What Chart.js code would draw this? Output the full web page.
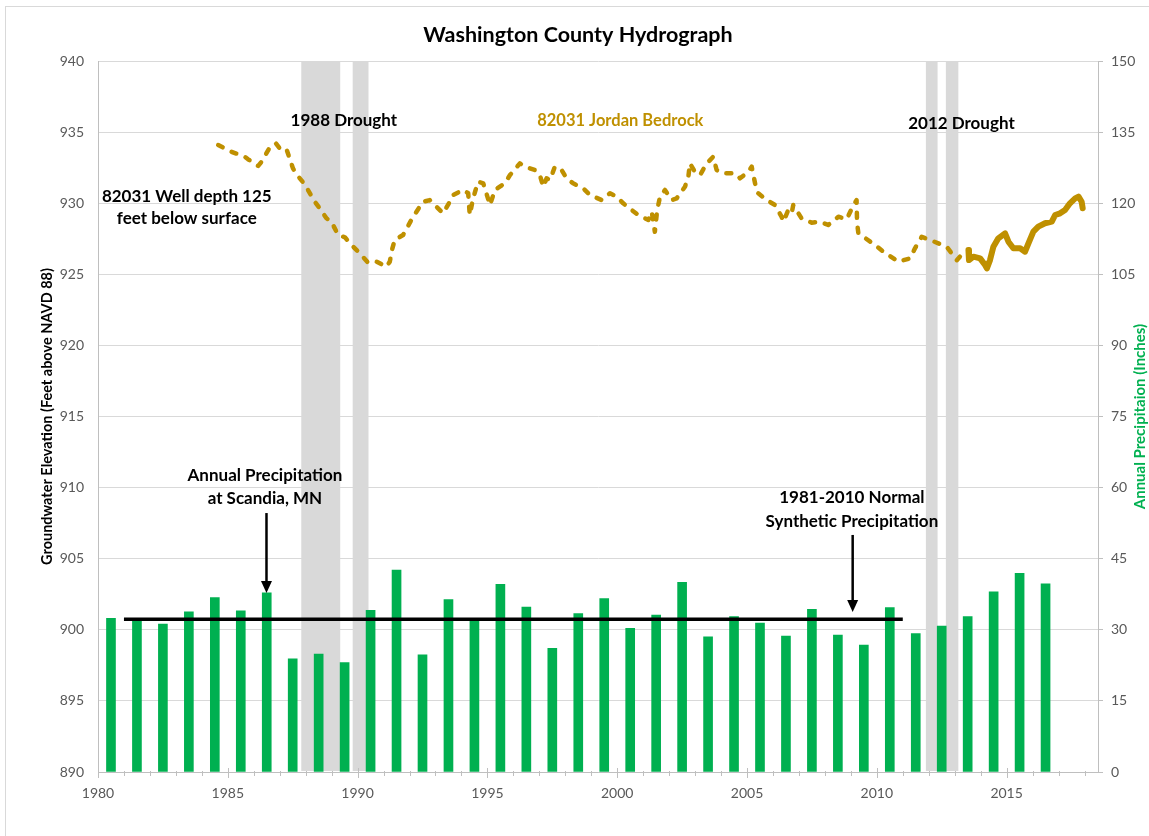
<!DOCTYPE html>
<html>
<head>
<meta charset="utf-8">
<script src="https://cdn.jsdelivr.net/npm/chart.js@4/dist/chart.umd.min.js"></script>
<style>
  html, body { margin: 0; padding: 0; background: #ffffff; }
  #wrap { width: 1149px; height: 836px; position: relative; }
</style>
</head>
<body>
<div id="wrap"><canvas id="c"></canvas></div>
<script>
// ---------- DATA ----------
const precipYears = [1980,1981,1982,1983,1984,1985,1986,1987,1988,1989,1990,1991,1992,1993,1994,1995,1996,1997,1998,1999,2000,2001,2002,2003,2004,2005,2006,2007,2008,2009,2010,2011,2012,2013,2014,2015,2016];
const precipInches = [32.4,32.0,31.2,33.8,36.8,34.0,37.8,23.9,24.9,23.1,34.1,42.6,24.7,36.4,32.0,39.6,34.8,26.1,33.4,36.6,30.3,33.1,40.0,28.5,32.8,31.4,28.7,34.3,28.9,26.8,34.7,29.2,30.8,32.8,38.0,41.9,39.7];

const normalYears = [1981, 2011];
const normalInches = [32.2, 32.2];

const gwYears = [1984.63,1985.14,1985.65,1985.78,1986.17,1986.3,1986.62,1986.85,1987.1,1987.28,1987.36,1987.51,1987.67,1987.93,1988.09,1988.35,1988.54,1988.8,1988.99,1989.25,1989.51,1989.83,1990.08,1990.4,1990.73,1991.11,1991.24,1991.34,1991.43,1991.75,1992.14,1992.52,1992.78,1993.1,1993.29,1993.55,1993.68,1994.07,1994.26,1994.32,1994.45,1994.64,1994.84,1995.1,1995.29,1995.67,1995.87,1996.25,1996.44,1996.83,1997.02,1997.15,1997.28,1997.41,1997.6,1997.86,1998.05,1998.3,1998.69,1998.95,1999.4,1999.72,1999.98,2000.23,2000.56,2000.81,2001.2,2001.33,2001.45,2001.54,2001.65,2001.84,2002.1,2002.29,2002.61,2002.74,2002.8,2002.99,2003.19,2003.45,2003.7,2003.83,2004.08,2004.54,2004.73,2005.05,2005.18,2005.31,2005.43,2005.76,2006.08,2006.33,2006.4,2006.59,2006.72,2006.78,2007.1,2007.49,2007.81,2008.13,2008.52,2008.84,2009.1,2009.22,2009.24,2009.29,2009.48,2009.93,2010.25,2010.64,2010.83,2011.28,2011.47,2011.73,2012.05,2012.37,2012.69,2013.08,2013.2];
const gwLevels = [934.09,933.62,933.27,933.09,932.62,932.92,933.93,934.21,933.62,933.69,933.27,932.45,931.98,931.4,930.93,930.1,929.64,928.94,928.7,927.76,927.6,926.94,926.48,925.82,925.89,925.53,925.89,926.83,927.41,927.76,929.05,930.1,930.22,929.64,929.29,930.1,930.58,930.93,930.7,929.17,930.34,931.51,931.4,929.87,930.93,931.4,931.98,932.8,932.57,932.33,931.98,931.16,931.75,931.63,932.57,932.33,931.75,931.4,931.05,930.58,930.22,930.7,930.46,929.99,929.52,929.17,928.82,929.4,927.99,929.52,930.46,930.93,930.22,930.34,931.16,931.86,932.8,932.21,931.98,932.8,933.27,932.33,932.1,932.1,931.75,932.21,932.57,931.4,930.7,930.22,929.87,929.05,928.7,929.52,929.29,929.87,928.94,928.63,928.7,928.47,929.05,928.87,929.87,930.22,928.59,927.88,927.64,927.06,926.59,926.12,925.89,926.12,926.83,927.64,927.41,927.18,926.94,925.99,926.24];

const gwDenseYears = [2013.53,2013.55,2013.72,2013.98,2014.17,2014.24,2014.36,2014.49,2014.68,2014.94,2015.07,2015.26,2015.52,2015.71,2015.84,2016.03,2016.22,2016.48,2016.74,2016.87,2017.06,2017.25,2017.44,2017.64,2017.77,2017.89,2017.93];
const gwDenseLevels = [926.71,926.0,926.24,926.12,925.65,925.42,926.0,926.94,927.53,927.88,927.29,926.83,926.83,926.59,927.18,928.0,928.35,928.59,928.7,929.17,929.29,929.52,929.99,930.34,930.46,930.1,929.64];

const droughtStart = [1987.83, 1989.81, 2011.89, 2012.66];
const droughtEnd   = [1989.33, 1990.42, 2012.34, 2013.14];

const xTickYears = [1980, 1985, 1990, 1995, 2000, 2005, 2010, 2015];

// ---------- STYLE / LAYOUT ----------
const GOLD = '#bf9000';
const GREEN = '#00b050';
const AXIS_GRAY = '#bfbfbf';
const GRID_GRAY = '#d9d9d9';
const TICK_TEXT = '#595959';
const FONT = 'Lato, "Open Sans", sans-serif';

// annotation anchors in data coordinates (year, feet)
const notes = [
  { text: '1988 Drought', x: 1989.47, y: 935.78, color: '#000', size: 17 },
  { text: '82031 Jordan Bedrock', x: 2000.12, y: 935.78, color: GOLD, size: 16.5 },
  { text: '2012 Drought', x: 2013.26, y: 935.57, color: '#000', size: 17 },
  { text: '82031 Well depth 125', x: 1983.42, y: 930.44, color: '#000', size: 17 },
  { text: 'feet below surface', x: 1983.42, y: 928.89, color: '#000', size: 17 },
  { text: 'Annual Precipitation', x: 1986.43, y: 910.82, color: '#000', size: 17 },
  { text: 'at Scandia, MN', x: 1986.43, y: 909.2, color: '#000', size: 17 },
  { text: '1981-2010 Normal', x: 2009.04, y: 909.27, color: '#000', size: 17 },
  { text: 'Synthetic Precipitation', x: 2009.04, y: 907.58, color: '#000', size: 17 }
];
const arrows = [
  { x: 1986.49, y0: 908.21, y1: 902.59 },
  { x: 2009.07, y0: 906.67, y1: 901.25 }
];

const overlay = {
  id: 'overlay',
  beforeDraw(chart) {
    const ctx = chart.ctx;
    ctx.save();
    ctx.fillStyle = '#fff';
    ctx.fillRect(0, 0, chart.width, chart.height);
    ctx.strokeStyle = GRID_GRAY;
    ctx.lineWidth = 1;
    ctx.strokeRect(5.5, 6.5, chart.width + 20, chart.height + 20);
    ctx.restore();
  },
  beforeDatasetsDraw(chart) {
    const ctx = chart.ctx, xs = chart.scales.x, a = chart.chartArea;
    ctx.save();
    ctx.fillStyle = GRID_GRAY;
    for (let i = 0; i < droughtStart.length; i++) {
      const x0 = xs.getPixelForValue(droughtStart[i]);
      const x1 = xs.getPixelForValue(droughtEnd[i]);
      ctx.fillRect(x0, a.top, x1 - x0, a.bottom - a.top - 1);
    }
    ctx.restore();
  },
  afterDraw(chart) {
    const ctx = chart.ctx, xs = chart.scales.x, ys = chart.scales.y, a = chart.chartArea;
    ctx.save();
    // x-axis tick marks (major every 5 years, minor every year)
    ctx.strokeStyle = AXIS_GRAY;
    ctx.lineWidth = 1;
    for (let yr = 1980; yr <= 2018; yr++) {
      const x = Math.round(xs.getPixelForValue(yr)) + 0.5;
      const major = yr % 5 === 0;
      ctx.beginPath();
      ctx.moveTo(x, a.bottom - (major ? 4 : 1));
      ctx.lineTo(x, a.bottom + (major ? 6 : 4));
      ctx.stroke();
    }
    // title
    ctx.fillStyle = '#000';
    ctx.textAlign = 'center';
    ctx.textBaseline = 'middle';
    ctx.font = 'bold 21.5px ' + FONT;
    ctx.fillText('Washington County Hydrograph', 578, 35);
    // axis titles
    ctx.save();
    ctx.translate(47, (a.top + a.bottom) / 2);
    ctx.rotate(-Math.PI / 2);
    ctx.font = 'bold 14.5px ' + FONT;
    ctx.fillStyle = '#000';
    ctx.fillText('Groundwater Elevation (Feet above NAVD 88)', 0, 0);
    ctx.restore();
    ctx.save();
    ctx.translate(1140, (a.top + a.bottom) / 2);
    ctx.rotate(-Math.PI / 2);
    ctx.font = 'bold 15px ' + FONT;
    ctx.fillStyle = GREEN;
    ctx.fillText('Annual Precipitaion (Inches)', 0, 0);
    ctx.restore();
    // annotations
    notes.forEach(n => {
      ctx.font = 'bold ' + n.size + 'px ' + FONT;
      ctx.fillStyle = n.color;
      ctx.fillText(n.text, xs.getPixelForValue(n.x), ys.getPixelForValue(n.y));
    });
    // arrows
    ctx.strokeStyle = '#000';
    ctx.fillStyle = '#000';
    ctx.lineWidth = 2.5;
    arrows.forEach(ar => {
      const x = xs.getPixelForValue(ar.x);
      const y0 = ys.getPixelForValue(ar.y0);
      const y1 = ys.getPixelForValue(ar.y1);
      ctx.beginPath();
      ctx.moveTo(x, y0);
      ctx.lineTo(x, y1 - 10);
      ctx.stroke();
      ctx.beginPath();
      ctx.moveTo(x - 5.5, y1 - 12);
      ctx.lineTo(x + 5.5, y1 - 12);
      ctx.lineTo(x, y1);
      ctx.closePath();
      ctx.fill();
    });
    ctx.restore();
  }
};

const toXY = (xsArr, ysArr, dx) => xsArr.map((v, i) => ({ x: v + (dx || 0), y: ysArr[i] }));

new Chart(document.getElementById('c'), {
  type: 'bar',
  data: {
    datasets: [
      {
        type: 'line',
        label: '1981-2010 Normal',
        data: toXY(normalYears, normalInches),
        yAxisID: 'y2',
        borderColor: '#000',
        borderWidth: 3.5,
        pointRadius: 0,
        order: 1
      },
      {
        type: 'line',
        label: '82031 Jordan Bedrock',
        data: toXY(gwYears, gwLevels),
        yAxisID: 'y',
        borderColor: GOLD,
        borderWidth: 4.5,
        borderDash: [5, 10],
        borderCapStyle: 'round',
        borderJoinStyle: 'round',
        pointRadius: 0,
        tension: 0,
        order: 2
      },
      {
        type: 'line',
        label: '82031 Jordan Bedrock (continuous)',
        data: toXY(gwDenseYears, gwDenseLevels),
        yAxisID: 'y',
        borderColor: GOLD,
        borderWidth: 6,
        borderCapStyle: 'round',
        borderJoinStyle: 'round',
        pointRadius: 0,
        tension: 0,
        order: 2
      },
      {
        type: 'bar',
        label: 'Annual Precipitation',
        data: toXY(precipYears, precipInches, 0.5),
        yAxisID: 'y2',
        backgroundColor: GREEN,
        borderWidth: 0,
        barThickness: 9,
        order: 3
      }
    ]
  },
  options: {
    responsive: true,
    maintainAspectRatio: false,
    animation: false,
    layout: { padding: { top: 61, left: 0, right: 0, bottom: 0 } },
    plugins: { legend: { display: false }, tooltip: { enabled: false }, title: { display: false } },
    scales: {
      x: {
        type: 'linear',
        min: 1980,
        max: 2018.52,
        offset: false,
        grid: { display: false, drawTicks: false },
        border: { display: true, color: AXIS_GRAY },
        afterBuildTicks: s => { s.ticks = xTickYears.map(v => ({ value: v })); },
        ticks: { color: TICK_TEXT, font: { family: FONT, size: 14 }, padding: 13, autoSkip: false, maxRotation: 0, callback: v => String(v) },
        afterFit: s => { s.height = 64; }
      },
      y: {
        position: 'left',
        min: 890,
        max: 940,
        grid: { color: GRID_GRAY, drawTicks: false },
        border: { display: true, color: AXIS_GRAY },
        ticks: { stepSize: 5, color: TICK_TEXT, font: { family: FONT, size: 14 }, padding: 14 },
        afterFit: s => { s.width = 98; }
      },
      y2: {
        position: 'right',
        min: 0,
        max: 150,
        grid: { drawOnChartArea: false, drawTicks: true, tickLength: 5, tickColor: AXIS_GRAY },
        border: { display: true, color: AXIS_GRAY },
        ticks: { stepSize: 15, color: TICK_TEXT, font: { family: FONT, size: 14 }, padding: 8 },
        afterFit: s => { s.width = 51; }
      }
    }
  },
  plugins: [overlay]
});
</script>
</body>
</html>
